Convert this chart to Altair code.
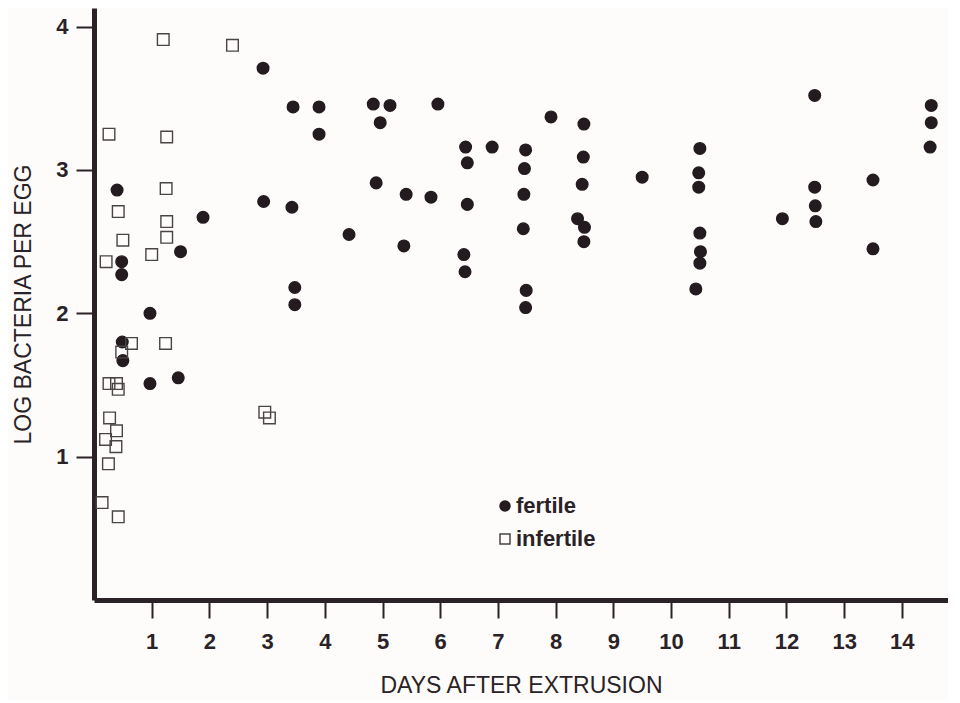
import altair as alt
import pandas as pd

# Fertile eggs (filled circles): days after extrusion, log bacteria per egg
fertile_days = [0.40, 0.48, 0.48, 0.49, 0.50, 0.97, 0.97, 1.46, 1.50, 1.89,
                2.93, 2.94, 3.45, 3.43, 3.48, 3.48, 3.90, 3.90, 4.42, 4.84,
                4.89, 4.96, 5.13, 5.37, 5.41, 5.84, 5.96, 6.41, 6.43, 6.44,
                6.47, 6.47, 6.90, 7.44, 7.45, 7.46, 7.48, 7.49, 7.48, 7.92,
                8.38, 8.46, 8.48, 8.49, 8.50, 8.49, 9.50, 10.43, 10.48, 10.48,
                10.50, 10.50, 10.51, 10.50, 11.93, 12.49, 12.49, 12.50, 12.51, 13.50,
                13.50, 14.51, 14.51, 14.49]
fertile_log = [2.86, 2.36, 2.27, 1.80, 1.67, 2.00, 1.51, 1.55, 2.43, 2.67,
               3.71, 2.78, 3.44, 2.74, 2.18, 2.06, 3.44, 3.25, 2.55, 3.46,
               2.91, 3.33, 3.45, 2.47, 2.83, 2.81, 3.46, 2.41, 2.29, 3.16,
               3.05, 2.76, 3.16, 2.59, 2.83, 3.01, 3.14, 2.16, 2.04, 3.37,
               2.66, 2.90, 3.09, 3.32, 2.60, 2.50, 2.95, 2.17, 2.98, 2.88,
               3.15, 2.56, 2.43, 2.35, 2.66, 3.52, 2.88, 2.75, 2.64, 2.93,
               2.45, 3.45, 3.33, 3.16]

# Infertile eggs (open squares)
infertile_days = [1.20, 2.40, 0.26, 1.26, 1.25, 0.42, 1.26, 1.26, 0.50, 1.00,
                  0.21, 0.65, 1.24, 0.48, 0.26, 0.39, 0.42, 2.96, 3.04, 0.27,
                  0.39, 0.20, 0.38, 0.25, 0.14, 0.42]
infertile_log = [3.91, 3.87, 3.25, 3.23, 2.87, 2.71, 2.64, 2.53, 2.51, 2.41,
                 2.36, 1.79, 1.79, 1.73, 1.51, 1.51, 1.47, 1.31, 1.27, 1.27,
                 1.18, 1.12, 1.07, 0.95, 0.68, 0.58]

x_ticks = list(range(1, 15))
y_ticks = [1, 2, 3, 4]
groups = ["fertile", "infertile"]

df = pd.DataFrame({
    "day": fertile_days + infertile_days,
    "log": fertile_log + infertile_log,
    "egg": ["fertile"] * len(fertile_days) + ["infertile"] * len(infertile_days),
})

INK = "#2a2226"
FONT = "Liberation Sans"

legend = alt.Legend(
    title=None, orient="none", legendX=400, legendY=487, padding=0,
    labelFont=FONT, labelFontSize=22, labelFontWeight="bold", labelColor=INK,
    labelOffset=0, rowPadding=11, symbolSize=100, symbolStrokeWidth=1.5,
    symbolOpacity=1,
)

chart = alt.Chart(df).mark_point(size=135, opacity=1, strokeWidth=1.4).encode(
    x=alt.X("day:Q",
            scale=alt.Scale(domain=[0, 14.8], nice=False, zero=False),
            axis=alt.Axis(values=x_ticks, title="DAYS AFTER EXTRUSION",
                          grid=False, format="d",
                          labelPadding=13, titlePadding=22)),
    y=alt.Y("log:Q",
            scale=alt.Scale(domain=[0, 4.13], nice=False, zero=False),
            axis=alt.Axis(values=y_ticks, title="LOG BACTERIA PER EGG",
                          grid=False, format="d",
                          labelPadding=8, titlePadding=20)),
    shape=alt.Shape("egg:N", scale=alt.Scale(domain=groups, range=["circle", "square"]), legend=legend),
    fill=alt.Fill("egg:N", scale=alt.Scale(domain=groups, range=["#231b1f", "transparent"]), legend=legend),
    stroke=alt.Stroke("egg:N", scale=alt.Scale(domain=groups, range=["#231b1f", "#4a4446"]), legend=legend),
).properties(
    width=854, height=592,
    autosize=alt.AutoSizeParams(type="none"),
    padding={"left": 86, "top": 0, "right": 0, "bottom": 100},
    background="#fdfcfa",
).configure_view(
    stroke=None,
).configure_axis(
    domainColor=INK, domainWidth=5,
    tickColor=INK, tickWidth=2, tickSize=18,
    labelFont=FONT, labelFontSize=22, labelFontWeight="bold", labelColor=INK,
    titleFont=FONT, titleFontSize=23, titleFontWeight="normal", titleColor=INK,
)

chart.save("out.html", embed_options={"renderer": "svg", "actions": False})
